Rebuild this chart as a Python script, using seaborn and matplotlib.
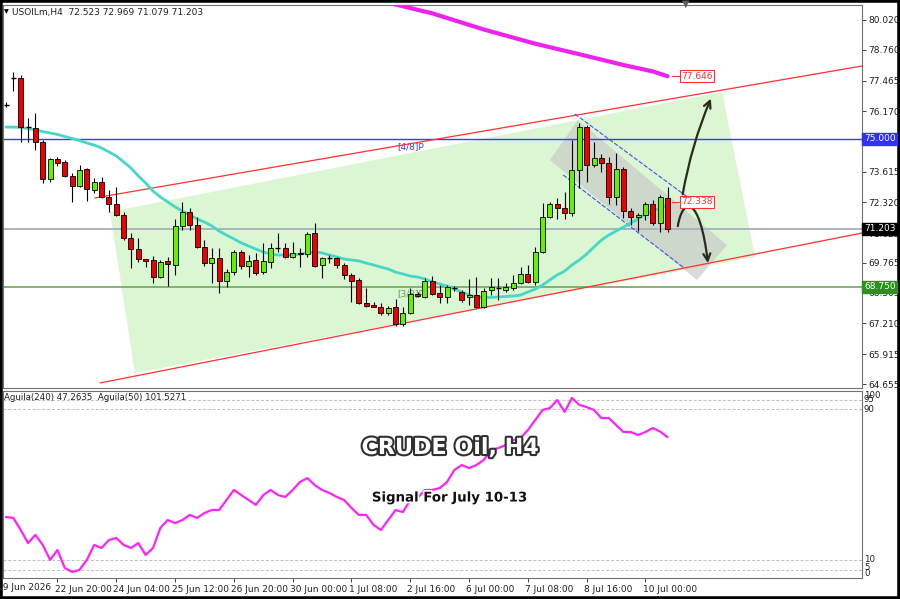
import numpy as np
import pandas as pd
import matplotlib
matplotlib.use("Agg")
import matplotlib.pyplot as plt
import seaborn as sns
from matplotlib.patches import Polygon, FancyArrowPatch, Rectangle
from matplotlib.path import Path
import matplotlib.patheffects as pe
import matplotlib.transforms as mtransforms

# ---------------- data ----------------
opens = [76.43, 77.57, 77.57, 75.50, 75.46, 74.87, 73.31, 74.15, 74.03, 73.44,
         73.01, 73.73, 72.84, 73.18, 72.55, 72.25, 71.79, 70.82, 70.35, 69.93,
         69.89, 69.17, 69.85, 69.68, 71.33, 71.92, 71.37, 70.44, 69.76, 69.97,
         69.00, 69.38, 70.23, 69.64, 69.89, 69.38, 69.81, 70.40, 70.40, 70.02,
         70.19, 70.14, 71.03, 69.68, 69.97, 69.97, 69.68, 69.26, 69.05, 68.07,
         67.99, 67.91, 67.65, 67.91, 67.19, 67.65, 68.45, 68.33, 69.00, 68.50,
         68.33, 68.71, 68.54, 68.33, 68.41, 67.91, 68.62, 68.71, 68.62, 68.71,
         68.92, 69.30, 68.96, 70.23, 71.70, 72.25, 72.08, 71.87, 73.69, 75.50,
         73.90, 74.20, 73.98, 72.55, 73.73, 71.96, 71.70, 71.79, 72.25, 71.45,
         72.523]
highs = [76.56, 77.83, 77.70, 75.88, 76.09, 74.96, 74.20, 74.24, 74.11, 73.56,
         73.90, 73.77, 73.35, 73.39, 72.84, 72.97, 71.92, 71.03, 70.82, 69.95,
         70.06, 69.89, 70.02, 71.62, 72.34, 72.08, 71.70, 70.73, 70.40, 70.40,
         69.51, 70.31, 70.31, 70.10, 70.19, 70.61, 70.61, 71.03, 70.61, 70.65,
         70.40, 71.07, 71.45, 70.02, 70.10, 70.02, 69.76, 69.34, 69.13, 68.71,
         68.12, 68.07, 67.95, 68.24, 67.91, 68.71, 68.54, 69.13, 69.21, 68.83,
         68.83, 68.79, 68.62, 69.09, 69.17, 68.71, 69.13, 69.13, 68.92, 69.26,
         69.59, 69.68, 70.44, 72.30, 72.34, 72.51, 72.76, 74.96, 75.67, 75.59,
         74.87, 74.36, 74.24, 74.41, 73.82, 72.08, 71.87, 72.34, 72.42, 72.63,
         72.969]
lows = [76.35, 77.02, 74.87, 74.87, 74.53, 73.14, 73.18, 73.86, 73.39, 72.34,
        72.97, 72.38, 72.72, 72.51, 71.92, 71.75, 70.73, 69.55, 69.81, 69.59,
        68.92, 69.13, 68.79, 69.26, 71.16, 71.16, 70.40, 69.64, 68.92, 68.50,
        68.75, 69.26, 69.51, 69.17, 69.26, 69.30, 69.55, 70.23, 69.97, 69.97,
        69.59, 70.02, 69.59, 69.13, 69.76, 69.55, 69.09, 68.12, 68.03, 67.91,
        67.89, 67.57, 67.57, 67.10, 67.10, 67.61, 68.33, 68.29, 68.41, 68.07,
        68.07, 68.58, 68.12, 67.99, 67.86, 67.86, 68.41, 68.20, 68.54, 68.62,
        68.88, 68.92, 68.83, 70.19, 71.66, 71.62, 71.62, 71.75, 72.93, 73.18,
        73.82, 73.60, 72.25, 72.21, 71.66, 71.37, 71.11, 71.58, 71.37, 71.07,
        71.079]
closes = [76.41, 77.57, 75.50, 75.48, 74.87, 73.31, 74.15, 73.98, 73.44, 73.01,
          73.69, 72.89, 73.18, 72.55, 72.25, 71.79, 70.82, 70.35, 69.93, 69.85,
          69.17, 69.81, 69.72, 71.33, 71.92, 71.37, 70.44, 69.76, 69.97, 69.00,
          69.38, 70.23, 69.64, 69.85, 69.34, 69.85, 70.40, 70.40, 70.02, 70.19,
          70.14, 70.99, 69.64, 69.97, 69.97, 69.68, 69.26, 69.00, 68.07, 67.95,
          67.91, 67.65, 67.86, 67.19, 67.65, 68.45, 68.37, 69.00, 68.45, 68.33,
          68.75, 68.71, 68.20, 68.41, 67.91, 68.58, 68.75, 68.71, 68.75, 68.92,
          69.30, 68.96, 70.23, 71.70, 72.25, 72.08, 71.87, 73.69, 75.50, 73.90,
          74.20, 73.98, 72.55, 73.73, 71.96, 71.70, 71.79, 72.25, 71.45, 72.55,
          71.203]
ma_fast = [75.50, 75.50, 75.48, 75.44, 75.38, 75.31, 75.25, 75.19, 75.10, 75.02,
           74.93, 74.83, 74.74, 74.62, 74.45, 74.28, 74.03, 73.77, 73.44, 73.14,
           72.80, 72.55, 72.34, 72.13, 71.96, 71.79, 71.62, 71.49, 71.33, 71.11,
           70.94, 70.78, 70.61, 70.48, 70.35, 70.23, 70.14, 70.10, 70.10, 70.10,
           70.14, 70.19, 70.23, 70.19, 70.10, 70.02, 69.93, 69.89, 69.85, 69.76,
           69.68, 69.59, 69.51, 69.38, 69.30, 69.21, 69.17, 69.09, 68.96, 68.88,
           68.79, 68.66, 68.54, 68.41, 68.33, 68.31, 68.31, 68.33, 68.35, 68.37,
           68.41, 68.54, 68.66, 68.83, 69.05, 69.26, 69.42, 69.68, 69.89, 70.14,
           70.44, 70.73, 70.94, 71.11, 71.28, 71.45, 71.62, 71.83, 71.96, 72.08,
           72.21]
ma_slow_idx = [52, 58, 65, 72, 79, 84, 88, 90]
ma_slow = [80.75, 80.30, 79.62, 79.02, 78.50, 78.12, 77.85, 77.646]
aguila = [32.8, 32.3, 25.9, 19.0, 23.3, 18.0, 10.1, 15.3, 5.8, 3.7,
          4.8, 10.1, 18.0, 16.4, 20.6, 21.7, 18.0, 16.4, 19.0, 12.7,
          16.4, 27.0, 31.2, 29.6, 31.2, 33.9, 32.3, 34.9, 36.5, 36.5,
          41.8, 47.1, 44.4, 41.8, 39.2, 44.4, 47.1, 44.4, 43.4, 47.1,
          51.3, 53.4, 49.7, 47.1, 45.5, 43.4, 41.8, 37.6, 33.9, 33.9,
          28.6, 25.9, 31.2, 36.5, 35.4, 41.8, 42.9, 47.1, 47.1, 48.1,
          51.3, 57.7, 60.3, 58.7, 60.3, 63.0, 68.3, 69.3, 70.9, 73.5,
          74.6, 78.8, 84.1, 89.4, 90.5, 94.7, 88.4, 95.8, 92.1, 91.0,
          89.4, 85.2, 85.2, 81.5, 77.8, 77.8, 76.2, 77.8, 79.9, 78.0,
          75.1]
price_ticks = [80.020, 78.760, 77.465, 76.170, 74.910, 73.615, 72.320,
               71.025, 69.765, 68.505, 67.210, 65.915, 64.655]
x_tick_idx = [7, 15, 23, 31, 39, 47, 55, 63, 71, 79, 87]
x_tick_labels = ["22 Jun 20:00", "24 Jun 04:00", "25 Jun 12:00", "26 Jun 20:00",
                 "30 Jun 00:00", "1 Jul 08:00", "2 Jul 16:00", "6 Jul 00:00",
                 "7 Jul 08:00", "8 Jul 16:00", "10 Jul 00:00"]
level_pivot = 75.000
level_last = 71.203
level_low = 68.750
label_ma = 77.646
label_mark = 72.338
ind_levels = [95, 90, 10, 5]
ind_labels = ["100", "95", "90", "10", "5", "0"]
# channel / drawing objects (bar index, price)
chan_up = [(12.1, 72.51), (116.5, 78.08)]
chan_dn = [(12.8, 64.70), (116.5, 71.03)]
green_zone = [(14.15, 71.92), (97.4, 76.98), (101.9, 70.02), (17.55, 65.12)]
gray_zone = [(74.0, 74.11), (77.8, 75.80), (98.1, 70.52), (94.0, 69.05)]
blue_up = [(77.4, 76.05), (93.1, 72.46)]
blue_dn = [(75.8, 73.48), (92.1, 69.59)]
arrow_up = [(92.0, 72.55), (96.05, 76.81)]
arrow_dn = [(91.4, 71.32), (92.1, 72.60), (94.4, 72.60), (95.5, 69.76)]

df = pd.DataFrame({"o": opens, "h": highs, "l": lows, "c": closes, "ma": ma_fast,
                   "agu": aguila})
df["i"] = np.arange(len(df))

# ---------------- figure ----------------
sns.set_theme(style="white")
plt.rcParams['font.family'] = ['DejaVu Sans']
W, H = 900, 599
fig = plt.figure(figsize=(9, 5.99), dpi=100)
fig.patch.set_facecolor("white")

def fx(x):
    return x / W

def fy(y):
    return 1 - y / H

ax = fig.add_axes([fx(3), fy(388), (862 - 3) / W, (388 - 5) / H])
ax2 = fig.add_axes([fx(3), fy(578), (862 - 3) / W, (578 - 391) / H])
XL = (-0.41, 116.46)
ax.set_xlim(*XL)
ax.set_ylim(64.487, 80.653)
ax2.set_xlim(*XL)
ax2.set_ylim(0.5, 99.5)

# zones
ax.add_patch(Polygon(green_zone, closed=True, facecolor="#daf6d2", edgecolor="none", zorder=0.5))
ax.add_patch(Polygon(gray_zone, closed=True, facecolor="#c8ccc8", edgecolor="none", alpha=0.7, zorder=0.6))

# horizontal levels
ax.axhline(level_pivot, color="#3a3aff", lw=1.0, zorder=1)
ax.axhline(level_last, color="#a8b0b8", lw=1.3, zorder=1)
ax.axhline(level_low, color="#6fa85c", lw=1.2, zorder=1)
ax.text(53.2, level_pivot - 0.12, "[4/8]P", color="#3a3aff", fontsize=6.5, va="top", zorder=1)
ax.text(53.2, level_low - 0.08, "[3/8]P", color="#5fa04c", fontsize=6.5, va="top", zorder=3.5)

# channels
for seg in [chan_up, chan_dn]:
    ax.plot([seg[0][0], seg[1][0]], [seg[0][1], seg[1][1]], color="#ff3030", lw=0.9, zorder=2)
for seg in [blue_up, blue_dn]:
    ax.plot([seg[0][0], seg[1][0]], [seg[0][1], seg[1][1]], color="#4a4aff", lw=0.8,
            ls=(0, (4, 1.5)), zorder=2)

# moving averages
sns.lineplot(data=df, x="i", y="ma", ax=ax, color="#45d8c8", lw=2.0, zorder=3, legend=False)
slow = pd.DataFrame({"i": ma_slow_idx, "v": ma_slow})
sns.lineplot(data=slow, x="i", y="v", ax=ax, color="#ee22ee", lw=3.0, zorder=3, legend=False)

# candles
bw = 0.68
for r in df.itertuples():
    ax.vlines(r.i, r.l, r.h, color="black", lw=0.8, zorder=4)
    if r.c > r.o:
        fc = "#66f000"
    elif r.c < r.o:
        fc = "#ee0000"
    else:
        fc = "black"
    body = abs(r.c - r.o)
    if body < 0.03:
        ax.hlines(r.o, r.i - bw / 2, r.i + bw / 2, color="black", lw=1.0, zorder=5)
    else:
        ax.add_patch(Rectangle((r.i - bw / 2, min(r.o, r.c)), bw, body, facecolor=fc,
                               edgecolor="black", lw=0.6, zorder=5))

# arrows
ax.add_patch(FancyArrowPatch(arrow_up[0], arrow_up[1], connectionstyle="arc3,rad=-0.06",
                             arrowstyle="->,head_length=5,head_width=2.5", color="#2b2a1e",
                             lw=1.6, zorder=6, mutation_scale=1))
dn_path = Path(arrow_dn, [Path.MOVETO, Path.CURVE4, Path.CURVE4, Path.CURVE4])
ax.add_patch(FancyArrowPatch(path=dn_path, arrowstyle="->,head_length=5,head_width=2.5",
                             color="#2b2a1e", lw=1.6, zorder=6, mutation_scale=1,
                             transform=ax.transData))

# price labels inside chart
for val, xs in [(label_ma, 91.7), (label_mark, 91.7)]:
    ax.plot([90.6, xs], [val, val], color="#ff3030", lw=0.8, zorder=6)
    ax.text(xs + 0.2, val, f"{val:.3f}", color="#ff3030", fontsize=6.5, va="center", ha="left",
            zorder=7, bbox=dict(boxstyle="square,pad=0.15", fc="white", ec="#ff3030", lw=0.8))

# axes styling
for a in (ax, ax2):
    a.set_facecolor("white")
    a.set_xlabel("")
    a.set_ylabel("")
    for s in a.spines.values():
        s.set_color("#707070")
        s.set_linewidth(0.8)
ax.yaxis.tick_right()
ax.set_yticks(price_ticks)
ax.set_yticklabels([f"{v:.3f}" for v in price_ticks])
ax.tick_params(axis="y", direction="out", length=3, width=0.6, pad=1.5,
               labelsize=6.5, colors="#202020", right=True, left=False)
ax.set_xticks([])

# indicator
for lv in ind_levels:
    ax2.axhline(lv, color="#c0c0c0", lw=0.7, ls=(0, (3, 2)), zorder=1)
sns.lineplot(data=df, x="i", y="agu", ax=ax2, color="#ff22ff", lw=1.6, zorder=3, legend=False)
ax2.set_yticks([])
ax2.set_xticks(x_tick_idx)
ax2.set_xticklabels(x_tick_labels)
ax2.tick_params(axis="x", direction="out", length=3, width=0.6, pad=2, labelsize=6.5,
                colors="#202020", bottom=True)
offset = mtransforms.ScaledTranslation(-2 / 72, 0, fig.dpi_scale_trans)
for lab in ax2.get_xticklabels():
    lab.set_ha("left")
    lab.set_transform(lab.get_transform() + offset)
fig.text(fx(-3), fy(588), "19 Jun 2026", fontsize=6.5, va="center", ha="left", color="#202020")

for lab, ypix in zip(ind_labels, [395, 400, 409, 560, 567, 573]):
    fig.text(fx(864), fy(ypix), lab, fontsize=6.2, va="center", ha="left", color="#202020")

# right axis price boxes
for val, fc in [(level_pivot, "#3030ff"), (level_last, "black"), (level_low, "#2f8f1f")]:
    ypix = 20 + (80.02 - val) / 0.04221
    fig.text(fx(864), fy(ypix), f"{val:.3f}", fontsize=6.5, va="center", ha="left", color="white",
             bbox=dict(boxstyle="square,pad=0.2", fc=fc, ec=fc), zorder=10)

# headers
fig.text(fx(4), fy(12), "\u25BC", fontsize=4.5, va="center", ha="left", color="black")
fig.text(fx(12), fy(12), "USOILm,H4  72.523 72.969 71.079 71.203", fontsize=6.5,
         va="center", ha="left", color="#202020")
fig.text(fx(4), fy(397), "Aguila(240) 47.2635  Aguila(50) 101.5271", fontsize=6.2,
         va="center", ha="left", color="#202020")
fig.text(fx(686), fy(4), "\u25BC", fontsize=7, va="center", ha="center", color="#606060")

# big titles
fig.text(fx(450), fy(448), "CRUDE Oil, H4", fontsize=16, fontweight="bold", color="white",
         ha="center", va="center",
         path_effects=[pe.withStroke(linewidth=3, foreground="#303030")])
fig.text(fx(450), fy(498), "Signal For July 10-13", fontsize=9.6, fontweight="bold", color="#111111",
         ha="center", va="center",
         path_effects=[pe.withStroke(linewidth=2.5, foreground="white")])

# outer border
fig.add_artist(Rectangle((0, 0), 1, 1, transform=fig.transFigure, fill=False, ec="black", lw=4))

fig.savefig("out.png", dpi=100)
